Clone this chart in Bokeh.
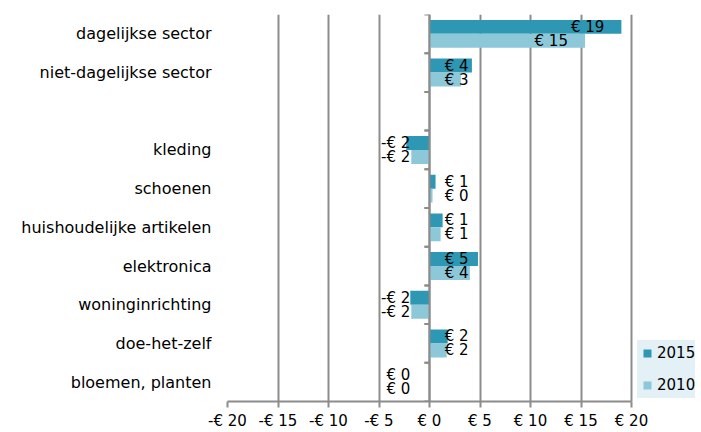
from bokeh.plotting import figure
from bokeh.models import (ColumnDataSource, FactorRange, FixedTicker, Legend, LegendItem,
                          Range1d, Span)
from bokeh.transform import dodge
from bokeh.core.properties import value
from bokeh.embed import file_html
from bokeh.resources import INLINE

# ---- data (top to bottom) ----
categories = ["dagelijkse sector", "niet-dagelijkse sector", " ", "kleding", "schoenen",
              "huishoudelijke artikelen", "elektronica", "woninginrichting",
              "doe-het-zelf", "bloemen, planten"]
series_names = ["2015", "2010"]
values_2015 = [19.0, 4.2, None, -2.3, 0.6, 1.3, 4.8, -1.9, 1.8, 0.0]
values_2010 = [15.4, 3.1, None, -1.8, 0.3, 1.1, 4.0, -1.8, 1.7, 0.0]
x_ticks = [-20, -15, -10, -5, 0, 5, 10, 15, 20]
x_tick_labels = ["-€ 20", "-€ 15", "-€ 10", "-€ 5", "€ 0", "€ 5", "€ 10", "€ 15", "€ 20"]

C2015 = "#2e97b3"
C2010 = "#8cc8d8"
GRID = "#8c8c8c"
FONT = "DejaVu Sans"

factors = list(reversed(categories))

# plot area: -20..20 spans 404 px; the frame extends to the window edge for the legend
W, H, LEFT, AXIS_PX = 701, 432, 227, 404
x_lo, x_hi = x_ticks[0], x_ticks[-1]
x_end = x_lo + (W - LEFT) * (x_hi - x_lo) / AXIS_PX

p = figure(width=W, height=H, output_backend="svg", toolbar_location=None,
           y_range=FactorRange(factors=factors, range_padding=0),
           x_range=Range1d(x_lo, x_end))
p.min_border_left = LEFT
p.min_border_right = 0
p.min_border_top = 14
p.min_border_bottom = 28
p.outline_line_color = None
p.background_fill_color = "white"
p.border_fill_color = "white"

# grid
p.ygrid.grid_line_color = None
p.xgrid.grid_line_color = GRID
p.xgrid.grid_line_width = 2
p.xgrid.ticker = FixedTicker(ticks=x_ticks)

# x axis
p.xaxis.ticker = FixedTicker(ticks=x_ticks)
p.xaxis.bounds = (x_lo, x_hi)
p.xaxis.major_label_overrides = {t: l for t, l in zip(x_ticks, x_tick_labels)}
p.xaxis.axis_line_color = GRID
p.xaxis.axis_line_width = 2
p.xaxis.major_tick_line_color = GRID
p.xaxis.major_tick_line_width = 2
p.xaxis.major_tick_out = 6
p.xaxis.major_tick_in = 0
p.xaxis.minor_tick_line_color = None
p.xaxis.major_label_text_font = FONT
p.xaxis.major_label_text_font_size = "15px"
p.xaxis.major_label_text_color = "black"
p.xaxis.major_label_standoff = 4

# y axis (labels only)
p.yaxis.axis_line_color = None
p.yaxis.major_tick_line_color = None
p.yaxis.minor_tick_line_color = None
p.yaxis.major_label_text_font = FONT
p.yaxis.major_label_text_font_size = "16px"
p.yaxis.major_label_text_color = "black"
p.yaxis.major_label_standoff = 10

# bars
rows = [(c, a, b) for c, a, b in zip(categories, values_2015, values_2010) if a is not None]
src = ColumnDataSource(dict(
    cat=[r[0] for r in rows],
    v2015=[r[1] for r in rows],
    v2010=[r[2] for r in rows],
))
h = 0.36
r15 = p.hbar(y=dodge("cat", 0.18, range=p.y_range), left=0, right="v2015", height=h,
             fill_color=C2015, line_color=None, source=src)
r10 = p.hbar(y=dodge("cat", -0.18, range=p.y_range), left=0, right="v2010", height=h,
             fill_color=C2010, line_color=None, source=src)

# zero axis line with category boundary ticks
p.add_layout(Span(location=0, dimension="height", line_color=GRID, line_width=2))
bsrc = ColumnDataSource(dict(cat=factors, x0=[-0.5] * len(factors), x1=[0] * len(factors)))
p.segment(x0="x0", x1="x1", y0=dodge("cat", 0.5, range=p.y_range),
          y1=dodge("cat", 0.5, range=p.y_range), line_color=GRID, line_width=2, source=bsrc)
p.segment(x0="x0", x1="x1", y0=dodge("cat", -0.5, range=p.y_range),
          y1=dodge("cat", -0.5, range=p.y_range), line_color=GRID, line_width=2, source=bsrc)

# value labels
def fmt(v):
    r = int(abs(v) + 0.5)
    return ("-€ " if v < 0 and r != 0 else "€ ") + str(r)

for key, off in (("v2015", 0.18), ("v2010", -0.18)):
    vals = src.data[key]
    pos = [(c, v) for c, v in zip(src.data["cat"], vals) if v > 0]
    neg = [(c, v) for c, v in zip(src.data["cat"], vals) if v <= 0]
    ps = ColumnDataSource(dict(cat=[c for c, _ in pos], x=[max(v - 5.0, 1.5) for _, v in pos],
                               t=[fmt(v) for _, v in pos]))
    ns = ColumnDataSource(dict(cat=[c for c, _ in neg], x=[-1.9] * len(neg),
                               t=[fmt(v) for _, v in neg]))
    p.text(x="x", y=dodge("cat", off, range=p.y_range), text="t", source=ps,
           text_font=value(FONT), text_font_size="15px", text_align="left",
           text_baseline="middle", text_color="black")
    p.text(x="x", y=dodge("cat", off, range=p.y_range), text="t", source=ns,
           text_font=value(FONT), text_font_size="15px", text_align="right",
           text_baseline="middle", text_color="black")

# legend (marker-only renderers that draw nothing in the plot: x is NaN)
lsrc = ColumnDataSource(dict(x=[float("nan")], y=[categories[0]]))
l15 = p.scatter(x="x", y="y", marker="square", size=8, fill_color=C2015, line_color=None,
                source=lsrc)
l10 = p.scatter(x="x", y="y", marker="square", size=8, fill_color=C2010, line_color=None,
                source=lsrc)
legend = Legend(items=[LegendItem(label=series_names[0], renderers=[l15]),
                       LegendItem(label=series_names[1], renderers=[l10])],
                location=(410, 3))
legend.background_fill_color = "#e3f0f5"
legend.background_fill_alpha = 1
legend.border_line_color = None
legend.label_text_font = FONT
legend.label_text_font_size = "15px"
legend.label_text_color = "black"
legend.glyph_width = 20
legend.glyph_height = 26
legend.label_height = 26
legend.spacing = 6
legend.padding = 3
legend.margin = 0
legend.label_standoff = 0
legend.click_policy = "none"
p.add_layout(legend)

open("out.html", "w").write(file_html(p, INLINE))
